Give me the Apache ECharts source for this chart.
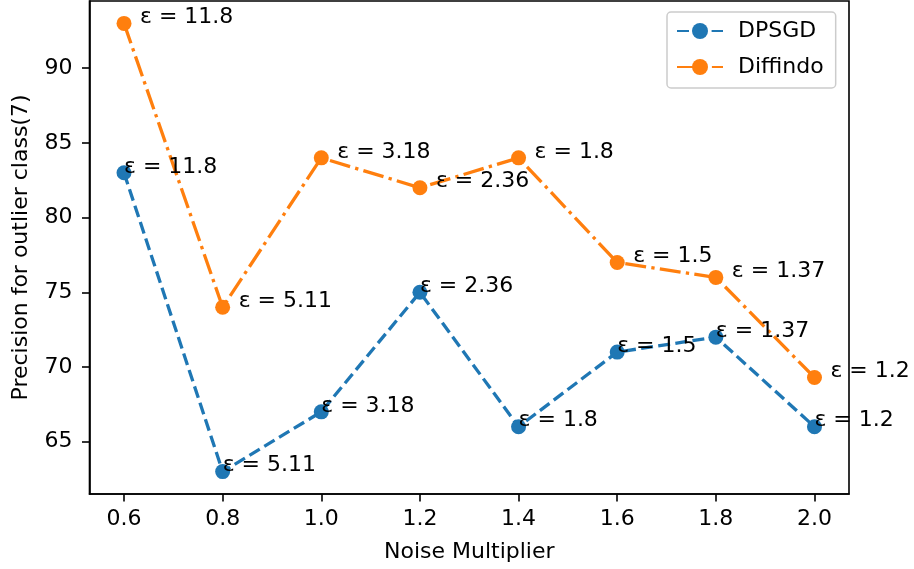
<!DOCTYPE html>
<html><head><meta charset="utf-8">
<script src="https://cdn.jsdelivr.net/npm/echarts@6/dist/echarts.min.js"></script>
<style>html,body{margin:0;padding:0;background:#fff}#c{width:914px;height:569px}</style>
</head><body><div id="c"></div>
<script>
const noise = [0.6, 0.8, 1.0, 1.2, 1.4, 1.6, 1.8, 2.0];
const dpsgd = [83, 63, 67, 75, 66, 71, 72, 66];
const diffindo = [93, 74, 84, 82, 84, 77, 76, 69.3];
const eps = ['11.8', '5.11', '3.18', '2.36', '1.8', '1.5', '1.37', '1.2'];
const xTicks = [0.6, 0.8, 1.0, 1.2, 1.4, 1.6, 1.8, 2.0];
const yTicks = [65, 70, 75, 80, 85, 90];

const FONT = 'DejaVu Sans';
const FS = 22;
const chart = echarts.init(document.getElementById('c'));
function mk(name, vals, color, dash, dx) {
  return {
    name: name, type: 'line',
    data: noise.map((x, i) => [x, vals[i]]),
    symbol: 'circle', symbolSize: 15,
    itemStyle: { color: color },
    lineStyle: { color: color, width: 3.3, type: dash },
    label: {
      show: true, position: [7.5, 7.5], align: 'left', verticalAlign: 'bottom',
      offset: [dx, 5],
      formatter: p => 'ε = ' + eps[p.dataIndex],
      color: '#000', fontFamily: FONT, fontSize: FS
    },
    animation: false
  };
}
chart.setOption({
  animation: false,
  grid: { left: 89.5, right: 65, top: 1, bottom: 75, show: true, borderColor: '#000', borderWidth: 1.6,
          containLabel: false, outerBoundsMode: 'none' },
  legend: {
    orient: 'vertical', left: 667, top: 12,
    padding: [8, 12, 10, 9], itemWidth: 46, itemHeight: 20, itemGap: 14,
    borderColor: '#ccc', borderWidth: 1.5, borderRadius: 4,
    textStyle: { fontFamily: FONT, fontSize: FS, color: '#000', padding: [0, 0, 0, 10] },
    data: ['DPSGD', 'Diffindo']
  },
  xAxis: {
    type: 'value', min: 0.53, max: 2.07,
    name: 'Noise Multiplier', nameLocation: 'middle', nameGap: 47,
    nameTextStyle: { fontFamily: FONT, fontSize: FS, color: '#000' },
    axisLine: { show: true, lineStyle: { color: '#000', width: 1.6 } },
    axisTick: { show: true, length: 7.5, lineStyle: { color: '#000', width: 1.6 }, customValues: xTicks },
    axisLabel: { fontFamily: FONT, fontSize: FS, color: '#000', margin: 14, customValues: xTicks, formatter: v => v.toFixed(1) },
    splitLine: { show: false }
  },
  yAxis: {
    type: 'value', min: 61.5, max: 94.5,
    name: 'Precision for outlier class(7)', nameLocation: 'middle', nameGap: 57,
    nameTextStyle: { fontFamily: FONT, fontSize: FS, color: '#000' },
    axisLine: { show: true, lineStyle: { color: '#000', width: 1.6 } },
    axisTick: { show: true, length: 7.5, lineStyle: { color: '#000', width: 1.6 }, customValues: yTicks },
    axisLabel: { fontFamily: FONT, fontSize: FS, color: '#000', margin: 17, customValues: yTicks },
    splitLine: { show: false }
  },
  series: [
    mk('DPSGD', dpsgd, '#1f77b4', [12, 5.3], 0),
    mk('Diffindo', diffindo, '#ff7f0e', [21, 5.3, 3.3, 5.3], 16)
  ]
});
</script></body></html>
